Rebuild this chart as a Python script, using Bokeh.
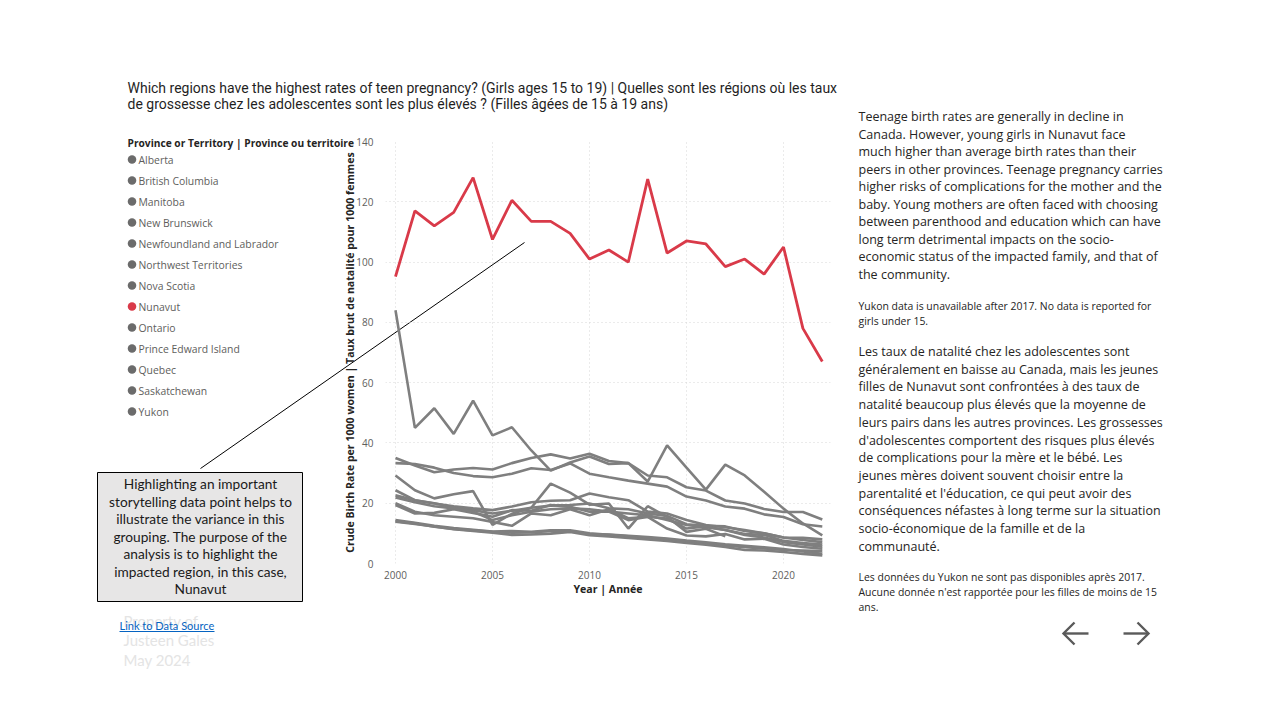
from bokeh.plotting import figure
from bokeh.models import Range1d, FixedTicker, Label, GridBox
from bokeh.embed import file_html
from bokeh.resources import INLINE

years = list(range(2000, 2023))
yukon_years = list(range(2000, 2018))

regions = ["Alberta", "British Columbia", "Manitoba", "New Brunswick",
           "Newfoundland and Labrador", "Northwest Territories", "Nova Scotia",
           "Nunavut", "Ontario", "Prince Edward Island", "Quebec",
           "Saskatchewan", "Yukon"]

alberta = [24.3, 21.0, 19.9, 19.0, 18.3, 17.7, 18.9, 20.3, 20.8, 21.0, 23.2, 22.0, 21.0, 17.2, 16.6, 14.4, 12.8, 12.0, 11.1, 10.0, 8.6, 7.8, 7.1]
british_columbia = [13.9, 13.1, 12.3, 11.4, 10.8, 10.2, 9.5, 9.6, 9.9, 10.5, 9.4, 9.0, 8.5, 8.0, 7.5, 6.8, 6.2, 5.5, 4.5, 4.3, 3.8, 3.2, 2.7]
manitoba = [33.3, 33.0, 31.8, 30.0, 29.0, 28.6, 29.8, 31.6, 31.0, 33.2, 29.8, 28.6, 27.5, 26.5, 25.5, 22.2, 20.9, 18.9, 18.2, 16.3, 15.4, 13.0, 12.3]
new_brunswick = [22.6, 21.0, 20.0, 18.6, 17.7, 16.6, 17.5, 18.5, 19.2, 19.4, 19.9, 18.3, 18.0, 16.6, 15.8, 13.0, 12.5, 12.3, 10.8, 10.0, 8.6, 8.5, 8.0]
newfoundland = [19.4, 16.6, 16.8, 18.0, 16.8, 15.5, 17.7, 17.5, 19.4, 18.8, 17.2, 17.2, 14.4, 15.5, 14.9, 11.6, 12.3, 11.1, 9.5, 8.6, 7.1, 6.3, 5.6]
northwest_territories = [84.0, 45.0, 51.5, 43.0, 54.0, 42.5, 45.2, 37.5, 30.8, 33.5, 35.5, 33.0, 33.3, 27.2, 39.2, 31.8, 24.5, 32.8, 29.2, 23.8, 18.2, 13.3, 9.3]
nova_scotia = [21.9, 20.3, 19.0, 18.3, 17.2, 14.4, 16.0, 17.2, 18.0, 18.3, 18.0, 17.2, 16.6, 16.0, 14.4, 12.8, 12.0, 11.1, 9.8, 9.5, 7.5, 6.8, 6.3]
nunavut = [95.2, 117.0, 112.0, 116.5, 128.0, 107.5, 120.5, 113.5, 113.5, 109.5, 101.0, 104.0, 100.0, 127.5, 103.0, 107.0, 106.0, 98.5, 101.0, 96.0, 105.0, 78.0, 67.0]
ontario = [14.4, 13.5, 12.5, 11.8, 11.2, 10.6, 10.8, 10.5, 11.0, 11.0, 10.0, 9.5, 9.0, 8.5, 8.0, 7.3, 6.6, 6.0, 5.4, 5.0, 4.5, 4.3, 4.1]
prince_edward_island = [20.0, 17.2, 16.0, 15.5, 15.0, 13.8, 12.5, 16.6, 16.0, 18.0, 16.0, 18.0, 15.0, 15.5, 11.6, 9.3, 9.0, 9.8, 8.0, 8.2, 6.3, 5.5, 4.9]
quebec = [14.0, 13.3, 12.2, 11.5, 11.0, 10.5, 10.2, 10.3, 10.8, 10.7, 9.8, 9.6, 9.2, 8.8, 8.3, 7.6, 7.0, 6.4, 5.9, 5.4, 4.8, 4.0, 3.2]
saskatchewan = [35.0, 32.5, 30.3, 31.2, 31.7, 31.2, 33.3, 35.0, 36.2, 34.8, 36.4, 34.0, 33.3, 29.2, 28.6, 25.3, 24.2, 20.9, 19.9, 18.1, 17.1, 17.1, 14.6]
yukon = [29.2, 24.3, 21.6, 23.0, 24.0, 12.8, 16.5, 18.5, 26.5, 23.5, 19.5, 19.9, 11.6, 19.0, 15.5, 10.5, 11.5, 9.0]

y_ticks = [0, 20, 40, 60, 80, 100, 120, 140]
x_ticks = [2000, 2005, 2010, 2015, 2020]

title_lines = ["Which regions have the highest rates of teen pregnancy? (Girls ages 15 to 19) | Quelles sont les régions où les taux",
               "de grossesse chez les adolescentes sont les plus élevés ? (Filles âgées de 15 à 19 ans)"]
legend_title = "Province or Territory | Province ou territoire"
para1 = ["Teenage birth rates are generally in decline in",
         "Canada. However, young girls in Nunavut face",
         "much higher than average birth rates than their",
         "peers in other provinces. Teenage pregnancy carries",
         "higher risks of complications for the mother and the",
         "baby. Young mothers are often faced with choosing",
         "between parenthood and education which can have",
         "long term detrimental impacts on the socio-",
         "economic status of the impacted family, and that of",
         "the community."]
note1 = ["Yukon data is unavailable after 2017. No data is reported for",
         "girls under 15."]
para2 = ["Les taux de natalité chez les adolescentes sont",
         "généralement en baisse au Canada, mais les jeunes",
         "filles de Nunavut sont confrontées à des taux de",
         "natalité beaucoup plus élevés que la moyenne de",
         "leurs pairs dans les autres provinces. Les grossesses",
         "d'adolescentes comportent des risques plus élevés",
         "de complications pour la mère et le bébé. Les",
         "jeunes mères doivent souvent choisir entre la",
         "parentalité et l'éducation, ce qui peut avoir des",
         "conséquences néfastes à long terme sur la situation",
         "socio-économique de la famille et de la",
         "communauté."]
note2 = ["Les données du Yukon ne sont pas disponibles après 2017.",
         "Aucune donnée n'est rapportée pour les filles de moins de 15",
         "ans."]
box_lines = ["Highlighting an important",
             "storytelling data point helps to",
             "illustrate the variance in this",
             "grouping. The purpose of the",
             "analysis is to highlight the",
             "impacted region, in this case,",
             "Nunavut"]
property_lines = ["Property of", "Justeen Gales", "May 2024"]

GRAY = "#7f7f7f"
RED = "#d93a49"
DARK = "#252423"
MID = "#605e5c"

W, H = 1264, 704
FL, FR, FT, FB = 385, 830, 141, 563  # frame edges in page px

# ---------------- background page (text, legend, callout) ----------------
bg = figure(width=W, height=H, output_backend="svg", toolbar_location=None,
            x_range=Range1d(0, W), y_range=Range1d(H, 0),
            x_axis_type=None, y_axis_type=None,
            min_border=0, min_border_left=0, min_border_right=0,
            min_border_top=0, min_border_bottom=0)
bg.frame_align = False
bg.outline_line_color = None
bg.xgrid.visible = False
bg.ygrid.visible = False
bg.background_fill_color = "white"
bg.border_fill_color = "white"


def lab(text, px, py, size, color=DARK, font="Open Sans", style="normal", align="left"):
    bg.add_layout(Label(x=px, y=py, text=text, text_font=font, text_font_size=size,
                        text_color=color, text_font_style=style, text_align=align,
                        text_baseline="middle"))


# title
lab(title_lines[0], 127, 87, "14px", "#1f1f1f", "Roboto")
lab(title_lines[1], 127, 103, "14px", "#1f1f1f", "Roboto")

# legend
lab(legend_title, 127, 142, "10.2px", DARK, "Open Sans", "bold")
leg_y = [159 + 21 * i for i in range(len(regions))]
leg_col = [RED if r == "Nunavut" else "#6b6b6b" for r in regions]
bg.scatter([131.5] * len(regions), leg_y, size=8.5, color=leg_col, line_width=0)
for r, cy in zip(regions, leg_y):
    lab(r, 138, cy, "10.4px", MID)

# callout line + box
bg.line([200, 524], [468, 242], line_color="black", line_width=1)
bg.quad(left=97, right=302, top=472, bottom=601, fill_color="#e7e6e6",
        line_color="black", line_width=1)
for i, t in enumerate(box_lines):
    lab(t, 200, 483.3 + 17.5 * i, "13.7px", "#1a1a1a", "Lato", align="center")

# property + link
for i, t in enumerate(property_lines):
    lab(t, 123, 620 + 19.5 * i, "15px", "#e4e4e4", "Lato")
lab("Link to Data Source", 119, 625, "11px", "#0563c1", "Lato")
bg.line([119, 214], [631, 631], line_color="#0563c1", line_width=1)

# right text
for i, t in enumerate(para1):
    lab(t, 858, 116 + 17.5 * i, "12.5px", DARK)
for i, t in enumerate(note1):
    lab(t, 858, 305 + 15.5 * i, "10.45px", DARK)
for i, t in enumerate(para2):
    lab(t, 858, 351 + 17.7 * i, "12.5px", DARK)
for i, t in enumerate(note2):
    lab(t, 858, 576 + 15.3 * i, "10.45px", DARK)

# navigation arrows
AC = "#5a5a5a"
bg.multi_line([[1063, 1088], [1074, 1063, 1074], [1123, 1148], [1137, 1148, 1137]],
              [[633, 633], [622, 633, 644], [633, 633], [622, 633, 644]],
              line_color=AC, line_width=2.4, line_join="miter")

# ---------------- chart ----------------
p = figure(width=W, height=H, output_backend="svg", toolbar_location=None,
           x_range=Range1d(2000 - 10 / 19.4, 2000 + (FR - 395) / 19.4),
           y_range=Range1d(0, 140),
           min_border_left=FL, min_border_right=W - FR,
           min_border_top=FT, min_border_bottom=H - FB)
p.frame_align = False
p.outline_line_color = None
p.background_fill_color = None
p.border_fill_color = None

for ax in (p.xaxis[0], p.yaxis[0]):
    ax.axis_line_color = None
    ax.major_tick_line_color = None
    ax.minor_tick_line_color = None
    ax.major_label_text_color = MID
    ax.major_label_text_font = "Open Sans"
    ax.major_label_text_font_size = "10px"
    ax.axis_label_text_color = DARK
    ax.axis_label_text_font = "Open Sans"
    ax.axis_label_text_font_style = "bold"
    ax.axis_label_text_font_size = "10.6px"

p.yaxis.ticker = FixedTicker(ticks=y_ticks)
p.xaxis.ticker = FixedTicker(ticks=x_ticks)
p.yaxis.axis_label = "Crude Birth Rate per 1000 women | Taux brut de natalité pour 1000 femmes"
p.xaxis.axis_label = "Year | Année"
p.yaxis.major_label_standoff = 6
p.yaxis.axis_label_standoff = -4
p.xaxis.major_label_standoff = 1
p.xaxis.axis_label_standoff = 0

for g in (p.xgrid[0], p.ygrid[0]):
    g.grid_line_color = "#d6d6d6"
    g.grid_line_dash = "1 3"
    g.grid_line_width = 1

series = [alberta, british_columbia, manitoba, new_brunswick, newfoundland,
          northwest_territories, nova_scotia, ontario, prince_edward_island,
          quebec, saskatchewan]
for vals in series:
    p.line(years, vals, line_color=GRAY, line_width=2.6)
p.line(yukon_years, yukon, line_color=GRAY, line_width=2.6)
p.line(years, nunavut, line_color=RED, line_width=2.8)

layout = GridBox(children=[(bg, 0, 0), (p, 0, 0)])

open("out.html", "w").write(file_html(layout, INLINE))
